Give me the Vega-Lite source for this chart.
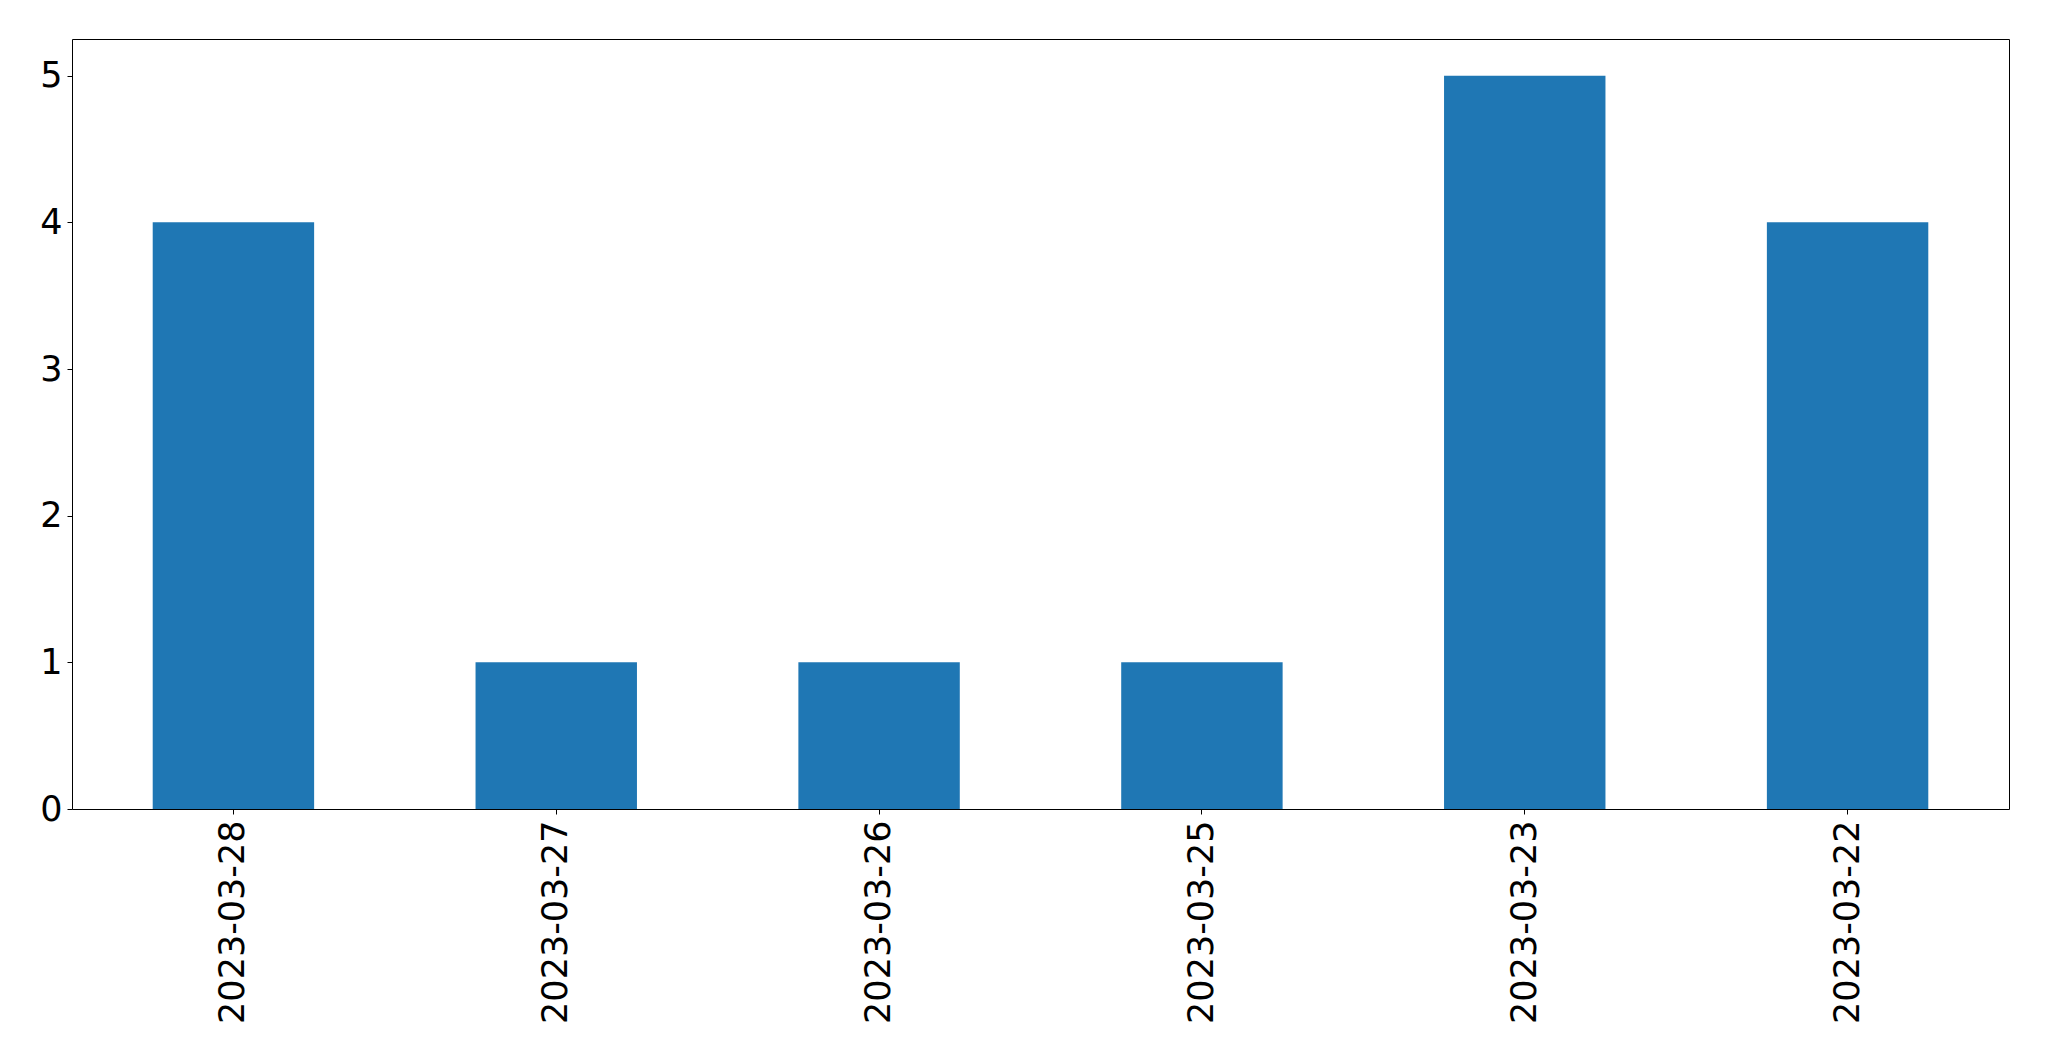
{
  "$schema": "https://vega.github.io/schema/vega-lite/v6.json",
  "width": 1937,
  "height": 770,
  "autosize": "none",
  "padding": {"left": 72, "top": 39, "right": 40, "bottom": 252},
  "background": "white",
  "config": {
    "view": {"stroke": "black", "strokeWidth": 1},
    "axis": {"labelFont": "DejaVu Sans", "labelFontSize": 35, "labelColor": "black", "labelLimit": 0, "tickColor": "black", "tickSize": 5, "tickWidth": 1, "domainColor": "black", "grid": false, "title": null}
  },
  "data": {
    "values": [
      {"date": "2023-03-28", "count": 4},
      {"date": "2023-03-27", "count": 1},
      {"date": "2023-03-26", "count": 1},
      {"date": "2023-03-25", "count": 1},
      {"date": "2023-03-23", "count": 5},
      {"date": "2023-03-22", "count": 4}
    ]
  },
  "mark": {"type": "bar", "color": "#1f77b4"},
  "encoding": {
    "x": {
      "field": "date", "type": "nominal", "sort": null,
      "scale": {"paddingInner": 0.5, "paddingOuter": 0.25},
      "axis": {"labelAngle": -90, "labelAlign": "right", "labelBaseline": "middle", "labelPadding": 6, "domain": false}
    },
    "y": {
      "field": "count", "type": "quantitative",
      "scale": {"domain": [0, 5.25], "nice": false},
      "axis": {"values": [0, 1, 2, 3, 4, 5], "labelPadding": 5, "domain": false}
    }
  }
}
